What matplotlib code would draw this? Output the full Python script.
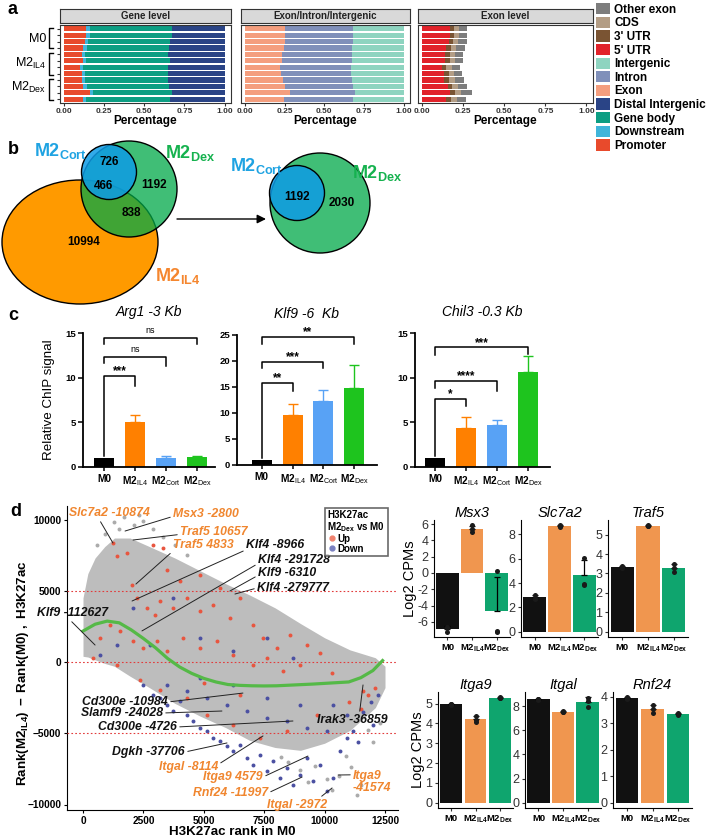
import numpy as np
import matplotlib
matplotlib.use("Agg")
import matplotlib.pyplot as plt
from matplotlib.patches import Ellipse, Patch
from matplotlib.lines import Line2D

plt.rcParams['font.family'] = ['Liberation Sans', 'DejaVu Sans']
plt.rcParams['mathtext.fontset'] = 'custom'
plt.rcParams['mathtext.rm'] = 'Liberation Sans'
plt.rcParams['mathtext.it'] = 'Liberation Sans:italic'
plt.rcParams['mathtext.bf'] = 'Liberation Sans:bold'
plt.rcParams['axes.linewidth'] = 0.8

# ---------------- panel a: fractions per sample (12 rows, top to bottom)
promoter = [0.14, 0.14, 0.13, 0.12, 0.11, 0.12, 0.10, 0.11, 0.11, 0.12, 0.16, 0.12]
downstream = [0.02, 0.02, 0.02, 0.025, 0.02, 0.02, 0.02, 0.02, 0.02, 0.025, 0.02, 0.02]
gene_body = [0.51, 0.51, 0.51, 0.51, 0.52, 0.52, 0.53, 0.52, 0.52, 0.51, 0.49, 0.52]

exon = [0.255, 0.255, 0.255, 0.245, 0.234, 0.234, 0.220, 0.230, 0.241, 0.255, 0.282, 0.249]
intron = [0.428, 0.428, 0.428, 0.430, 0.441, 0.441, 0.448, 0.438, 0.432, 0.424, 0.414, 0.430]

utr5 = [0.170, 0.170, 0.165, 0.148, 0.142, 0.142, 0.121, 0.136, 0.136, 0.157, 0.170, 0.148]
utr3 = [0.025, 0.025, 0.026, 0.026, 0.028, 0.028, 0.027, 0.027, 0.029, 0.027, 0.029, 0.030]
cds = [0.032, 0.032, 0.029, 0.032, 0.029, 0.029, 0.036, 0.032, 0.034, 0.036, 0.039, 0.034]
other_exon = [0.047, 0.047, 0.052, 0.057, 0.049, 0.049, 0.047, 0.049, 0.055, 0.052, 0.063, 0.053]

feature_names = ['Other exon', 'CDS', "3' UTR", "5' UTR", 'Intergenic', 'Intron', 'Exon',
                 'Distal Intergenic', 'Gene body', 'Downstream', 'Promoter']
feature_colors = ['#7D7D7D', '#B39D85', '#7A5433', '#E1222A', '#8ED4C0', '#8090BA', '#F49E7E',
                  '#2A4486', '#0C9E83', '#40B5DA', '#E84A2C']
col = dict(zip(feature_names, feature_colors))

# ---------------- panel b: venn counts
venn_left = {'726': 726, '466': 466, '1192': 1192, '838': 838, '10994': 10994}
venn_right = {'1192': 1192, '2030': 2030}

# ---------------- panel c: ChIP-qPCR
chip_groups = ['M0', r'M2$_{\mathrm{IL4}}$', r'M2$_{\mathrm{Cort}}$', r'M2$_{\mathrm{Dex}}$']
chip_colors = ['#000000', '#FF8000', '#58A2F5', '#1EC41E']
arg1_mean = [1.0, 5.05, 1.05, 1.1]
arg1_err = [0.0, 0.75, 0.2, 0.15]
klf9_mean = [1.0, 9.6, 12.3, 14.8]
klf9_err = [0.0, 2.2, 2.2, 4.5]
chil3_mean = [1.0, 4.35, 4.65, 10.65]
chil3_err = [0.0, 1.25, 0.6, 1.8]
# (from, to, bracket height, left leg end, right leg end, label)
arg1_sig = [(0, 3, 14.4, 13.8, 13.8, 'ns'), (0, 2, 12.3, 11.6, 11.3, 'ns'), (0, 1, 10.2, 1.2, 9.1, '***')]
klf9_sig = [(0, 3, 24.6, 23.3, 23.3, '**'), (0, 2, 19.9, 18.7, 18.7, '***'), (0, 1, 15.8, 1.3, 14.3, '**')]
chil3_sig = [(0, 3, 13.4, 12.5, 12.7, '***'), (0, 2, 9.6, 8.8, 8.5, '****'), (0, 1, 7.6, 1.2, 6.8, '*')]

# ---------------- panel d: rank scatter
cloud_rank = [0, 200, 500, 900, 1300, 1950, 2750, 3800, 4850, 5900, 6900, 7950, 9000, 10000, 11050, 12100, 12500]
cloud_high = [4500, 6200, 7300, 8100, 8700, 8700, 8100, 7300, 6400, 5500, 4700, 3800, 2700, 1700, 850, 300, -300]
cloud_low = [400, 350, 150, -100, -300, -1000, -1800, -2900, -3800, -4600, -5500, -6000, -6200, -5700, -4800, -3200, -1800]
sparse_rank = [900, 1300, 1700, 2100, 2500, 2900, 3300, 1500, 2300, 3800, 4300, 600, 8500, 9000, 9600, 10100,
               10600, 11100, 11500, 12000, 9300, 10300, 10900, 11800, 8200, 12300, 11340]
sparse_diff = [9000, 9800, 10200, 9600, 9900, 9300, 8800, 9300, 10300, 8200, 7500, 8200, -7000, -7600, -7300, -8200,
               -8000, -7400, -8600, -5600, -8400, -9000, -6600, -4800, -6700, -4300, -9300]
up_rank = [1252, 1394, 1807, 2911, 3325, 3463, 2014, 2221, 2635, 2980, 3187, 3739, 4291, 4843, 5394, 6084, 7050,
           7464, 8016, 8568, 9258, 4015, 4843, 5670, 6498, 704, 1118, 1531, 2083, 2497, 3049, 3463, 4153, 4843,
           5532, 6222, 7050, 7602, 8292, 8982, 1394, 2359, 3187, 4291, 5118, 6222, 7326, 8430, 9672, 11000,
           11500, 12100, 400, 5000, 6500, 10300, 9800, 11590, 11800]
up_diff = [8351, 7415, 7649, 8234, 8000, 6480, 5427, 4491, 3789, 3322, 4257, 3789, 4491, 3556, 4023, 3088, 2620,
           1684, 982, 1918, 1216, 5661, 6129, 5193, 4491, 1684, 2620, 2152, 1450, 982, 1450, 749, 1684, 982,
           1450, 515, -187, 281, -655, -187, -187, -1240, -1942, -2526, -3696, -4398, -5333, -4866, -3696, -2800,
           -3300, -1800, 250, -1500, -2300, -800, 600, -2030, -2300]
down_rank = [2497, 2911, 3187, 3463, 3739, 4015, 4291, 4567, 4843, 5118, 5394, 5670, 5946, 6222, 6498, 6774, 7050,
             7326, 7602, 7878, 8154, 8430, 8706, 8982, 9258, 9534, 9810, 10086, 10362, 10638, 10914, 11190,
             3463, 4291, 5118, 5946, 6774, 7602, 8430, 9258, 10086, 10914, 4843, 6222, 7602, 8982, 10362,
             2083, 2773, 3739, 4843, 6222, 7602, 8706, 1394, 704, 11600, 11900, 12200, 11400, 12000]
down_diff = [-1591, -2292, -2526, -2994, -3462, -2760, -3696, -4164, -4632, -4866, -5333, -5567, -5918, -6269, -5801,
             -6737, -7205, -6503, -7673, -6971, -8140, -7439, -8608, -7906, -6737, -8374, -7205, -9076, -8140,
             -6269, -5333, -4866, -1591, -2058, -2526, -2994, -3462, -3930, -4164, -4632, -4866, -3696, -1123,
             -1591, -2526, -2994, -2994, 3789, 1216, 4491, 1684, 749, 1684, 281, 1216, 515, -3500, -2800, -2300,
             -5600, -4400]
fit_rank = [0, 500, 1000, 1500, 2000, 2500, 3000, 3500, 4000, 4500, 5000, 5500, 6000, 6500, 7000, 7500, 8000,
            8500, 9000, 9500, 10000, 10500, 11000, 11500, 12000, 12400]
fit_diff = [2170, 2650, 2870, 2750, 2250, 1650, 1000, 250, -350, -800, -1150, -1400, -1580, -1640, -1670, -1680,
            -1670, -1630, -1590, -1550, -1500, -1450, -1400, -1100, -600, 100]

annot_genes = ['Slc7a2 -10874', 'Msx3 -2800', 'Traf5 10657', 'Traf5 4833', 'Klf4 -8966', 'Klf4 -291728',
               'Klf9 -6310', 'Klf4 -279777', 'Klf9 -112627', 'Cd300e -10984', 'Slamf9 -24028', 'Cd300e -4726',
               'Dgkh -37706', 'Itgal -8114', 'Itga9 4579', 'Rnf24 -11997', 'Itgal -2972', 'Irak3 -36859',
               'Itga9\n-41574']
annot_rank = [1240, 1740, 2070, 2190, 2030, 2440, 6080, 6290, 500, 6620, 5750, 8690, 5960, 7450, 9310, 9070,
              10310, 11590, 10560]
annot_diff = [8350, 9190, 8560, 5470, 4280, 2180, 4980, 4770, 1190, -2180, -3440, -4140, -5680, -5190, -6600,
              -8070, -8840, -1610, -7930]
annot_orange = [True, True, True, True, False, False, False, False, False, False, False, False, False,
                True, True, True, True, False, True]

# ---------------- panel d: log2 CPM replicates (M0, M2IL4, M2Dex)
cpm_groups = ['M0', r'M2$_{\mathbf{IL4}}$', r'M2$_{\mathbf{Dex}}$']
cpm_colors = ['#111111', '#F0964F', '#0FA56E']
msx3 = [[-6.6, -6.7, -7.2], [5.85, 5.35, 5.05], [0.2, -7.1, -7.2]]
slc7a2 = [[3.05, 2.8, 2.7], [8.65, 8.7, 8.75], [6.1, 3.95, 3.85]]
traf5 = [[3.4, 3.35, 3.3], [5.45, 5.42, 5.48], [3.5, 3.3, 3.1]]
itga9 = [[5.0, 4.97, 4.95], [4.4, 4.15, 4.05], [5.32, 5.3, 5.28]]
itgal = [[8.6, 8.55, 8.5], [7.6, 7.55, 7.5], [8.7, 8.4, 7.95]]
rnf24 = [[3.98, 3.95, 3.92], [3.7, 3.55, 3.4], [3.4, 3.35, 3.3]]

W, H = 710, 840
fig = plt.figure(figsize=(W / 100, H / 100), dpi=100)


def px_axes(x0, y0, x1, y1):
    return fig.add_axes([x0 / W, 1 - y1 / H, (x1 - x0) / W, (y1 - y0) / H])


ov = fig.add_axes([0, 0, 1, 1], zorder=-5)
ov.set_xlim(0, W)
ov.set_ylim(H, 0)
ov.axis('off')

for letter, lx, ly in [('a', 8, 9), ('b', 8, 149), ('c', 8, 316), ('d', 10, 512)]:
    ov.text(lx, ly, letter, fontsize=13, fontweight='bold', va='center', ha='left')

# ---------------- panel a
rows = np.arange(12, 0, -1)


def stack(ax, parts, colors):
    left = np.zeros(12)
    for vals, c in zip(parts, colors):
        vals = np.asarray(vals, float)
        ax.barh(rows, vals, left=left, height=0.82, color=c, linewidth=0)
        left += vals


a_specs = [
    ('Gene level', 60, 231,
     [promoter, downstream, gene_body, 1 - np.sum([promoter, downstream, gene_body], axis=0)],
     [col['Promoter'], col['Downstream'], col['Gene body'], col['Distal Intergenic']]),
    ('Exon/Intron/Intergenic', 241, 410,
     [exon, intron, 1 - np.sum([exon, intron], axis=0)],
     [col['Exon'], col['Intron'], col['Intergenic']]),
    ('Exon level', 418, 593,
     [utr5, utr3, cds, other_exon],
     [col["5' UTR"], col["3' UTR"], col['CDS'], col['Other exon']]),
]
for k, (name, x0, x1, parts, colors) in enumerate(a_specs):
    ax = px_axes(x0, 25, x1, 103)
    stack(ax, parts, colors)
    ax.set_xlim(-0.025, 1.04)
    ax.set_ylim(0.4, 12.6)
    ax.set_xticks([0, 0.25, 0.5, 0.75, 1.0])
    ax.set_xticklabels(['0.00', '0.25', '0.50', '0.75', '1.00'], fontsize=6, fontweight='bold', color='#333333')
    ax.tick_params(axis='x', length=2, pad=1.5, color='#333333')
    if k == 0:
        ax.set_yticks(rows)
        ax.set_yticklabels([])
        ax.tick_params(axis='y', length=2, color='#333333')
    else:
        ax.set_yticks([])
    for s in ax.spines.values():
        s.set_color('#333333')
    ax.set_xlabel('Percentage', fontsize=8.5, fontweight='bold', labelpad=0)
    st = px_axes(x0, 9, x1, 23)
    st.set_facecolor('#D9D9D9')
    st.set_xticks([])
    st.set_yticks([])
    for s in st.spines.values():
        s.set_color('#333333')
    st.text(0.5, 0.5, name, transform=st.transAxes, ha='center', va='center', fontsize=7,
            fontweight='bold', color='#222222')

fig.legend([Patch(facecolor=c, edgecolor='none') for c in feature_colors], feature_names,
           loc='upper left', bbox_to_anchor=(596 / W, 1 - 3 / H), frameon=False,
           prop=dict(weight='bold', size=8.5), handlelength=1.2, handleheight=1.1,
           labelspacing=0.08, handletextpad=0.35, borderpad=0, borderaxespad=0)

for lab, ly, y0, y1 in [('M0', 39, 28, 48), (r'M2$_{\mathrm{IL4}}$', 63, 53, 75), (r'M2$_{\mathrm{Dex}}$', 87, 79, 100)]:
    ov.text(46, ly, lab, fontsize=9, ha='right', va='center')
    ov.plot([53, 49, 49, 53], [y0, y0, y1, y1], color='black', lw=1)

# ---------------- panel b
shapes = [((80, 242), 156, 124, '#FF9A00', 1.0), ((129, 189), 96, 96, '#00A848', 0.75),
          ((109, 172), 55, 55, '#0E9BE6', 0.85),
          ((320, 203), 100, 100, '#00A848', 0.75), ((297, 193), 55, 55, '#0E9BE6', 0.85)]
for (cx, cy), w, h, c, al in shapes:
    ov.add_patch(Ellipse((cx, cy), w, h, facecolor=c, alpha=al, edgecolor='none'))
    ov.add_patch(Ellipse((cx, cy), w, h, facecolor='none', edgecolor='black', lw=1))
for (lab, val), (tx, ty) in zip(venn_left.items(), [(109, 162), (104, 186), (154, 185), (131, 213), (84, 242)]):
    ov.text(tx, ty, f'{val}', fontsize=8.5, fontweight='bold', ha='center', va='center')
for (lab, val), (tx, ty) in zip(venn_right.items(), [(297, 197), (342, 203)]):
    ov.text(tx, ty, f'{val}', fontsize=8.5, fontweight='bold', ha='center', va='center')
for txt, tx, ty, c in [(r'M2$_{\mathbf{Cort}}$', 60, 151, '#1FA3E2'), (r'M2$_{\mathbf{Dex}}$', 190, 153, '#16B24F'),
                       (r'M2$_{\mathbf{IL4}}$', 178, 276, '#F5862E'), (r'M2$_{\mathbf{Cort}}$', 256, 166, '#1FA3E2'),
                       (r'M2$_{\mathbf{Dex}}$', 377, 173, '#16B24F')]:
    ov.text(tx, ty, txt, fontsize=13, fontweight='bold', color=c, ha='center', va='center')
ov.annotate('', xy=(266, 219), xytext=(177, 219),
            arrowprops=dict(arrowstyle='-|>', color='black', lw=1, mutation_scale=13, shrinkA=0, shrinkB=0))

# ---------------- panel c


def chip_panel(rect, means, errs, ymax, yticks, xlim, title, sig):
    ax = px_axes(*rect)
    x = np.arange(4)
    ax.bar(x, means, width=0.65, color=chip_colors, zorder=2)
    for i in range(4):
        if errs[i] > 0:
            ax.errorbar(x[i], means[i], yerr=[[0], [errs[i]]], fmt='none', ecolor=chip_colors[i],
                        elinewidth=1, capsize=3.5, capthick=1, zorder=1)
    for i, j, yb, yl, yr, lab in sig:
        ax.plot([i, i, j, j], [yl, yb, yb, yr], color='black', lw=1.1, clip_on=False)
        if lab == 'ns':
            ax.annotate(lab, ((i + j) / 2, yb), xytext=(0, 2.5), textcoords='offset points',
                        ha='center', va='bottom', fontsize=6.5, annotation_clip=False)
        else:
            ax.annotate(lab, ((i + j) / 2, yb), xytext=(0, -1), textcoords='offset points',
                        ha='center', va='bottom', fontsize=8.5, fontweight='bold', annotation_clip=False)
    ax.set_ylim(0, ymax)
    ax.set_xlim(*xlim)
    ax.set_yticks(yticks)
    ax.set_yticklabels([str(t) for t in yticks], fontsize=6.8, fontweight='bold')
    ax.set_xticks(x)
    ax.set_xticklabels(chip_groups, fontsize=7.3, fontweight='bold')
    ax.tick_params(axis='x', length=3, width=1.1, pad=2)
    ax.tick_params(axis='y', length=3.5, width=1.1, pad=1.5)
    for s in ['top', 'right']:
        ax.spines[s].set_visible(False)
    for s in ['left', 'bottom']:
        ax.spines[s].set_linewidth(1.3)
    ax.set_title(title, fontsize=10, style='italic', pad=12)
    return ax


c1 = chip_panel((83, 333, 215, 467), arg1_mean, arg1_err, 15, [0, 5, 10, 15], (-0.68, 3.58), 'Arg1 -3 Kb', arg1_sig)
c1.set_ylabel('Relative ChIP signal', fontsize=9.6)
c1.yaxis.set_label_coords(-0.21, 0.5)
chip_panel((237, 335, 377, 465), klf9_mean, klf9_err, 25, [0, 5, 10, 15, 20, 25], (-0.81, 3.75), 'Klf9 -6  Kb', klf9_sig)
chip_panel((415, 333, 550, 467), chil3_mean, chil3_err, 15, [0, 5, 10, 15], (-0.65, 3.7), 'Chil3 -0.3 Kb', chil3_sig)

# ---------------- panel d scatter
ax = px_axes(67, 506, 398, 810)


def dx(px):
    return (px - 83) / 0.02416


def dy(py):
    return (662 - py) / 0.01425


ax.set_xlim(dx(67), dx(398))
ax.set_ylim(dy(810), dy(506))
ax.fill_between(cloud_rank, cloud_low, cloud_high, color='#BDBDBD', lw=0, zorder=1)
ax.scatter(sparse_rank, sparse_diff, s=8, color='#ABABAB', lw=0, zorder=1)
ax.scatter(up_rank, up_diff, s=8, color='#E8553F', lw=0, zorder=2, label='Up')
ax.scatter(down_rank, down_diff, s=8, color='#4B50A2', lw=0, zorder=2, label='Down')
for yy in (5000, 0, -5000):
    ax.axhline(yy, color='#E23B3B', ls=(0, (1.5, 2)), lw=0.8, zorder=3)
ax.plot(fit_rank, fit_diff, color='#55B947', lw=2.3, zorder=4)
ax.set_xticks([0, 2500, 5000, 7500, 10000, 12500])
ax.set_yticks([-10000, -5000, 0, 5000, 10000])
ax.tick_params(labelsize=7.3, length=2.5, pad=1.5)
for t in ax.get_xticklabels() + ax.get_yticklabels():
    t.set_fontweight('bold')
for s in ['top', 'right']:
    ax.spines[s].set_visible(False)
ax.set_xlabel('H3K27ac rank in M0', fontsize=9.6, fontweight='bold', labelpad=0)
ax.set_ylabel(r'$\mathbf{Rank(M2_{IL4})\ -\ Rank(M0)\ ,\ H3K27ac}$', fontsize=9.6)
ax.yaxis.set_label_coords(-0.108, 0.45)

label_layout = [(69, 513, 'left', (0.37, 0)), (173, 514, 'left', (0, 0.3)), (180, 532, 'left', (0, 0.3)),
                (173, 545, 'left', (0, 0)), (246, 545, 'left', (0, 0.1)), (258, 560, 'left', (0, 0.2)),
                (258, 573, 'left', (0, 0.3)), (257, 588, 'left', (0, 0.5)), (37, 613, 'left', (0.45, 0)),
                (168, 702, 'right', (1, 0.5)), (163, 713, 'right', (1, 0.5)), (177, 727, 'right', (1, 0.5)),
                (185, 752, 'right', (1, 0.5)), (218, 767, 'right', (1, 0.7)), (263, 777, 'right', (1, 0.5)),
                (268, 793, 'right', (1, 0.5)), (267, 805, 'left', (0.85, 1)), (317, 720, 'left', (0.6, 1)),
                (353, 782, 'left', (0, 0.8))]
for g, xr, yr, orng, (tx, ty, ha, rp) in zip(annot_genes, annot_rank, annot_diff, annot_orange, label_layout):
    ax.annotate(g, (xr, yr), xytext=(dx(tx), dy(ty)), textcoords='data', ha=ha, va='center',
                fontsize=8.8, fontweight='bold', style='italic', color='#F0862F' if orng else '#111111',
                linespacing=1.0, annotation_clip=False, zorder=6,
                arrowprops=dict(arrowstyle='-', lw=0.7, color='#222222', shrinkA=0, shrinkB=0, relpos=rp))

leg_handles = [Line2D([], [], marker='o', ls='none', color='#F0826E', markersize=3.5),
               Line2D([], [], marker='o', ls='none', color='#7A80C0', markersize=3.5)]
leg = ax.legend(leg_handles, ['Up', 'Down'], title='H3K27ac\n' + r'M2$_{\mathbf{Dex}}$ vs M0',
                loc='upper left', bbox_to_anchor=(320 / W, 1 - 503 / H), bbox_transform=fig.transFigure,
                frameon=True, fancybox=False, edgecolor='#444444', handletextpad=0.1, borderpad=0.25,
                labelspacing=0.0, handlelength=0.9, alignment='left',
                title_fontproperties={'weight': 'bold', 'size': 7}, prop={'weight': 'bold', 'size': 7})
leg.get_frame().set_linewidth(1.2)
leg.get_title().set_linespacing(0.95)
leg.set_zorder(10)

# ---------------- panel d bar charts


def cpm_panel(rect, reps, title, yticks, ylabel=False):
    a = px_axes(*rect)
    reps = np.asarray(reps, float)
    means = reps.mean(axis=1)
    sds = reps.std(axis=1, ddof=1)
    x = np.arange(1, 4)
    a.bar(x, means, width=0.9, color=cpm_colors, zorder=1)
    a.errorbar(x, means, yerr=[np.zeros(3), sds], fmt='none', ecolor='black', elinewidth=0.9,
               capsize=2.5, capthick=0.9, zorder=3)
    a.scatter(np.repeat(x, 3), reps.ravel(), s=13, color='#1A1A1A', lw=0, zorder=4)
    lo = min(0, reps.min(), means.min())
    hi = max(0, reps.max(), (means + sds).max())
    pad = 0.05 * (hi - lo)
    a.set_ylim(lo - pad, hi + pad)
    a.set_xlim(0.45, 3.55)
    a.set_xticks(x)
    a.set_xticklabels(cpm_groups, fontsize=6.8, fontweight='bold')
    a.set_yticks(yticks)
    a.set_yticklabels([str(t) for t in yticks], fontsize=9, color='#333333')
    a.tick_params(length=2.5, pad=1.5, color='#333333')
    for s in ['top', 'right']:
        a.spines[s].set_visible(False)
    a.set_title(title, fontsize=10.5, style='italic', pad=1.5)
    if ylabel:
        a.set_ylabel('Log2 CPMs', fontsize=10.5, labelpad=0)
    return a


cpm_panel((434, 520, 510, 637), msx3, 'Msx3', [-6, -4, -2, 0, 2, 4, 6], ylabel=True)
cpm_panel((521, 520, 598, 637), slc7a2, 'Slc7a2', [0, 2, 4, 6, 8])
cpm_panel((608, 520, 688, 637), traf5, 'Traf5', [0, 1, 2, 3, 4, 5])
cpm_panel((438, 692, 513, 808), itga9, 'Itga9', [0, 1, 2, 3, 4, 5], ylabel=True)
cpm_panel((525, 692, 601, 808), itgal, 'Itgal', [0, 2, 4, 6, 8])
cpm_panel((613, 692, 692, 808), rnf24, 'Rnf24', [0, 1, 2, 3, 4])

fig.savefig('out.png', dpi=100)
